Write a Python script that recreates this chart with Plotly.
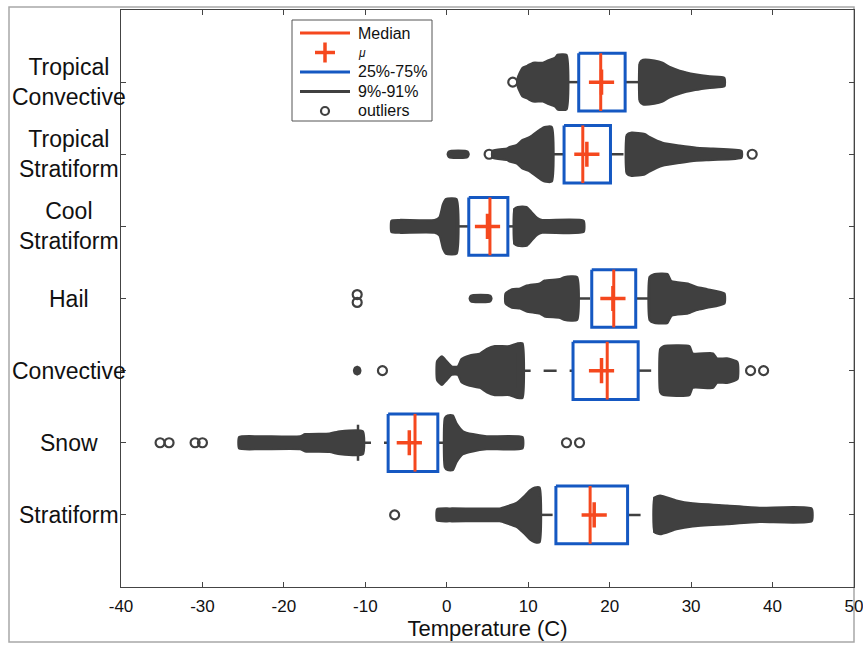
import plotly.graph_objects as go

# ---------------- data ----------------
categories = ["Tropical<br>Convective", "Tropical<br>Stratiform", "Cool<br>Stratiform",
              "Hail", "Convective", "Snow", "Stratiform"]

q1     = [16.2, 14.4, 2.7, 17.8, 15.5, -7.2, 13.4]
median = [18.9, 16.7, 5.3, 20.5, 19.7, -3.9, 17.6]
q3     = [21.9, 20.1, 7.5, 23.2, 23.5, -1.1, 22.2]
mean   = [19.0, 17.2, 5.0, 20.4, 19.0, -4.6, 18.1]
lower  = [14.7, 12.9, 1.2, 16.0, 8.7, -10.9, 11.4]   # 9th percentile
upper  = [23.7, 22.1, 8.3, 24.9, 26.2, -0.25, 25.5]  # 91st percentile

# outlier clouds below the lower whisker: temperature samples and jitter spread
low_cloud_x = [
    [8.7, 9.3, 9.9, 10.6, 11.8, 12.4, 13.3, 13.6, 14.7],
    [5.6, 7.4, 7.7, 8.6, 9.3, 10.2, 11.4, 12.0, 12.9],
    [-6.8, -5.8, -1.5, -0.9, -0.5, -0.1, 1.2],
    [7.2, 8.0, 9.0, 9.8, 11.4, 12.0, 13.9, 14.5, 16.0],
    [-1.2, -0.6, 0.0, 0.6, 1.35, 1.8, 2.8, 4.1, 4.9, 5.9, 7.7, 8.7, 9.3],
    [-25.5, -23.0, -18.0, -17.4, -14.4, -13.1, -10.3],
    [-1.2, 0.4, 6.5, 7.4, 8.6, 9.6, 10.2, 10.8, 11.4],
]
low_cloud_w = [
    [0.06, 0.20, 0.23, 0.27, 0.27, 0.30, 0.34, 0.38, 0.38],
    [0.05, 0.08, 0.10, 0.13, 0.20, 0.24, 0.34, 0.38, 0.38],
    [0.08, 0.09, 0.09, 0.13, 0.30, 0.38, 0.38],
    [0.07, 0.13, 0.14, 0.18, 0.21, 0.25, 0.27, 0.30, 0.30],
    [0.13, 0.20, 0.13, 0.06, 0.06, 0.16, 0.21, 0.24, 0.30, 0.34, 0.34, 0.38, 0.38],
    [0.08, 0.09, 0.09, 0.12, 0.13, 0.16, 0.16],
    [0.08, 0.09, 0.09, 0.12, 0.17, 0.27, 0.34, 0.38, 0.38],
]
# outlier clouds above the upper whisker
high_cloud_x = [
    [23.7, 24.1, 25.5, 26.5, 27.4, 28.6, 30.5, 32.3, 34.1],
    [22.1, 22.7, 24.3, 24.9, 26.5, 28.6, 30.7, 32.7, 36.2],
    [8.3, 8.7, 9.8, 10.4, 11.1, 11.7, 16.8],
    [24.9, 25.5, 27.1, 27.6, 29.6, 30.7, 32.0, 34.1],
    [26.2, 26.6, 29.8, 30.2, 32.7, 33.2, 34.4, 35.7],
    [-0.25, 0.1, 0.75, 1.2, 2.0, 3.2, 4.9, 9.3],
    [25.5, 26.2, 28.2, 30.2, 34.4, 38.4, 44.8],
]
high_cloud_w = [
    [0.27, 0.31, 0.30, 0.27, 0.21, 0.16, 0.11, 0.08, 0.06],
    [0.27, 0.30, 0.28, 0.24, 0.16, 0.12, 0.09, 0.08, 0.05],
    [0.24, 0.27, 0.27, 0.20, 0.12, 0.09, 0.08],
    [0.30, 0.34, 0.34, 0.24, 0.21, 0.16, 0.13, 0.07],
    [0.30, 0.34, 0.34, 0.24, 0.24, 0.17, 0.17, 0.12],
    [0.34, 0.38, 0.38, 0.27, 0.16, 0.12, 0.09, 0.08],
    [0.24, 0.27, 0.20, 0.16, 0.13, 0.10, 0.09],
]
# small separate clumps of overlapping outliers (start, end)
clump_x = [[], [[0.1, 2.7]], [], [[2.8, 5.5]], [[-11.4, -10.6]], [], []]
clump_w = [[], [0.05], [], [0.05], [0.055], [], []]

# single isolated outliers and their jitter
single_x = [[8.1], [5.2, 37.5], [], [-11.0, -11.0], [-7.9, 37.3, 38.9],
            [-35.2, -34.1, -30.9, -30.0, 14.7, 16.3], [-6.4]]
single_jit = [[0.0], [0.0, 0.0], [], [-0.055, 0.055], [0.0, 0.0, 0.0],
              [0.0, 0.0, 0.0, 0.0, 0.0, 0.0], [0.0]]

x_ticks = [-40, -30, -20, -10, 0, 10, 20, 30, 40, 50]
legend_labels = ["Median", "<i>μ</i>", "25%-75%", "9%-91%", "outliers"]

# ---------------- styles ----------------
RED = "#F5481E"
BLUE = "#1558C2"
GRAY = "#404040"
FONT = "Liberation Sans, Arial, Helvetica, sans-serif"
BOX_HALF = 0.4
CAP_HALF = 0.25

fig = go.Figure()

def band(xs, ws, yc):
    xx = list(xs) + list(xs)[::-1] + [xs[0]]
    yy = [yc - w for w in ws] + [yc + w for w in ws][::-1] + [yc - ws[0]]
    return go.Scatter(x=xx, y=yy, mode="lines", fill="toself", fillcolor=GRAY,
                      line=dict(color=GRAY, width=2, shape="spline", smoothing=0.5),
                      hoverinfo="skip", showlegend=False)

def capsule(a, b, w, yc):
    r = min(0.45, (b - a) / 2.0)
    xs = [a, a + r * 0.3, a + r, b - r, b - r * 0.3, b]
    ws = [0.005, w * 0.75, w, w, w * 0.75, 0.005]
    return band(xs, ws, yc)

for i in range(len(categories)):
    yc = i + 1
    # outlier clouds
    fig.add_trace(band(low_cloud_x[i], low_cloud_w[i], yc))
    fig.add_trace(band(high_cloud_x[i], high_cloud_w[i], yc))
    for seg, w in zip(clump_x[i], clump_w[i]):
        fig.add_trace(capsule(seg[0], seg[1], w, yc))
    if single_x[i]:
        fig.add_trace(go.Scatter(
            x=single_x[i], y=[yc + j for j in single_jit[i]], mode="markers",
            marker=dict(symbol="circle-open", size=9, color=GRAY, line=dict(width=2.2, color=GRAY)),
            showlegend=False, hoverinfo="skip"))
    # whiskers (dashed, drawn left to right) and caps
    for a, b, cap in ((lower[i], q1[i], lower[i]), (q3[i], upper[i], upper[i])):
        fig.add_trace(go.Scatter(x=[a, b], y=[yc, yc], mode="lines",
                                 line=dict(color=GRAY, width=2.5, dash="13px,13px"),
                                 showlegend=False, hoverinfo="skip"))
        fig.add_trace(go.Scatter(x=[cap, cap], y=[yc - CAP_HALF, yc + CAP_HALF], mode="lines",
                                 line=dict(color=GRAY, width=2.5),
                                 showlegend=False, hoverinfo="skip"))
    # box
    fig.add_trace(go.Scatter(
        x=[q1[i], q3[i], q3[i], q1[i], q1[i]],
        y=[yc - BOX_HALF, yc - BOX_HALF, yc + BOX_HALF, yc + BOX_HALF, yc - BOX_HALF],
        mode="lines", fill="toself", fillcolor="rgba(255,255,255,1)",
        line=dict(color=BLUE, width=3), showlegend=False, hoverinfo="skip"))
    # median
    fig.add_trace(go.Scatter(x=[median[i], median[i]], y=[yc - BOX_HALF, yc + BOX_HALF],
                             mode="lines", line=dict(color=RED, width=3),
                             showlegend=False, hoverinfo="skip"))
    # mean
    fig.add_trace(go.Scatter(x=[mean[i]], y=[yc], mode="markers",
                             marker=dict(symbol="cross-thin", size=18, color=RED,
                                         line=dict(width=3.5, color=RED)),
                             showlegend=False, hoverinfo="skip"))

# category labels, centred lines
annotations = []
for i, c in enumerate(categories):
    annotations.append(dict(text=c, x=-0.0709, xref="paper", y=i + 1, yref="y",
                            xanchor="center", yanchor="middle", align="center",
                            showarrow=False, font=dict(family=FONT, size=23, color="#111")))

# ---------------- legend drawn in pixel space ----------------
def px2x(px):
    return (px - 121) / 733.0

def py2y(py):
    return (587 - py) / 577.0

shapes = []
# outer frame of the picture
shapes.append(dict(type="rect", xref="paper", yref="paper", x0=px2x(9), x1=px2x(854),
                   y0=py2y(642), y1=py2y(7), line=dict(color="#A8A8A8", width=1.5), layer="below"))
# legend box
shapes.append(dict(type="rect", xref="paper", yref="paper", x0=px2x(292), x1=px2x(432),
                   y0=py2y(121), y1=py2y(20), line=dict(color="#555", width=1),
                   fillcolor="white", layer="above"))
rows = [33, 52.5, 72, 91.5, 111]
shapes.append(dict(type="line", xref="paper", yref="paper", x0=px2x(300), x1=px2x(350),
                   y0=py2y(rows[0]), y1=py2y(rows[0]), line=dict(color=RED, width=3)))
shapes.append(dict(type="line", xref="paper", yref="paper", x0=px2x(315), x1=px2x(335),
                   y0=py2y(rows[1]), y1=py2y(rows[1]), line=dict(color=RED, width=3.5)))
shapes.append(dict(type="line", xref="paper", yref="paper", x0=px2x(325), x1=px2x(325),
                   y0=py2y(rows[1] - 10), y1=py2y(rows[1] + 10), line=dict(color=RED, width=3.5)))
shapes.append(dict(type="line", xref="paper", yref="paper", x0=px2x(300), x1=px2x(350),
                   y0=py2y(rows[2]), y1=py2y(rows[2]), line=dict(color=BLUE, width=3)))
shapes.append(dict(type="line", xref="paper", yref="paper", x0=px2x(300), x1=px2x(350),
                   y0=py2y(rows[3]), y1=py2y(rows[3]), line=dict(color=GRAY, width=3)))
shapes.append(dict(type="circle", xref="paper", yref="paper", x0=px2x(321), x1=px2x(329),
                   y0=py2y(rows[4] + 4), y1=py2y(rows[4] - 4), line=dict(color=GRAY, width=2.2)))
for lab, r in zip(legend_labels, rows):
    annotations.append(dict(text=lab, x=px2x(356), xref="paper", y=py2y(r), yref="paper",
                            xanchor="left", yanchor="middle", showarrow=False,
                            font=dict(family=FONT, size=16 if lab != "<i>μ</i>" else 12, color="#111")))

fig.update_layout(
    width=863, height=645,
    margin=dict(l=121, r=9, t=10, b=58, autoexpand=False),
    paper_bgcolor="white", plot_bgcolor="white",
    showlegend=False,
    shapes=shapes, annotations=annotations,
    font=dict(family=FONT, color="#111"),
)
fig.update_xaxes(range=[-40, 50], tickvals=x_ticks, ticktext=[str(v) for v in x_ticks],
                 ticks="inside", ticklen=5, tickcolor="#444", mirror="ticks",
                 showline=True, linecolor="#444", linewidth=1, showgrid=False, zeroline=False,
                 tickfont=dict(size=17, family=FONT, color="#111"), ticklabelstandoff=4,
                 ticklabeloverflow="allow", automargin=False,
                 title=dict(text="Temperature (C)", font=dict(size=22, family=FONT, color="#111"),
                            standoff=3))
fig.update_yaxes(range=[8, 0], tickvals=list(range(1, 8)), ticktext=[""] * 7,
                 ticks="inside", ticklen=5, tickcolor="#444", mirror="ticks", automargin=False,
                 showline=True, linecolor="#444", linewidth=1, showgrid=False, zeroline=False)

fig.write_html("out.html", config={"displayModeBar": False},
               post_script="document.body.style.margin='0';document.body.style.padding='0';")
